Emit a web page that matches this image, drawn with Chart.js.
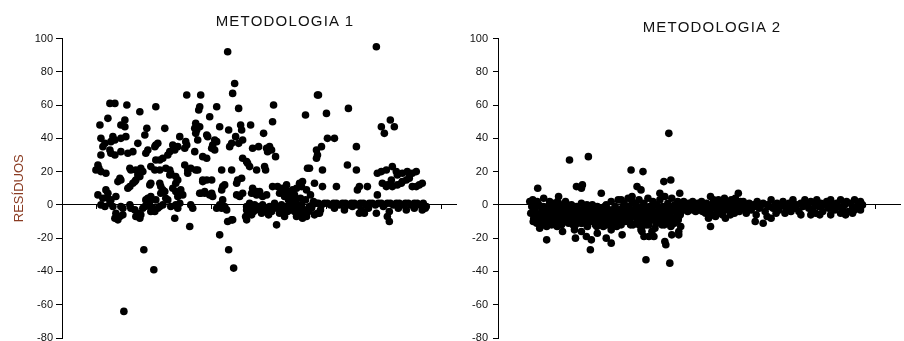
<!DOCTYPE html>
<html><head><meta charset="utf-8">
<script src="https://cdn.jsdelivr.net/npm/chart.js@4/dist/chart.umd.min.js"></script>
<style>
html,body{margin:0;padding:0;background:#fff;overflow:hidden;width:904px;height:341px}
#wrap{position:relative;width:904px;height:341px;overflow:hidden;background:#fff}
canvas{position:absolute;top:0}
#c1{left:0}
#c2{left:460px}
.ttl{position:absolute;font-family:"Liberation Sans",Arial,sans-serif;font-size:15px;line-height:15px;letter-spacing:1.2px;color:#111;white-space:nowrap;transform:translateX(-50%)}
</style></head><body>
<div id="wrap">
<canvas id="c1" width="460" height="360"></canvas>
<canvas id="c2" width="444" height="360"></canvas>
<div class="ttl" id="t1" style="left:285px;top:13px"></div>
<div class="ttl" id="t2" style="left:712px;top:19px"></div>
</div>
<script>
const chartTitles = ['METODOLOGIA 1', 'METODOLOGIA 2'];
const yAxisTitle = 'RESÍDUOS';
const yRange = [-80, 100];
const yStep = 20;
const xTickValues = [0, 115, 230, 345];
const xRange1 = [-35, 360];
const xRange2 = [-35, 370];

const metodologia1 = [
[90,66],[13,61],[18,61],[30,60],[43,56],[59,59],[104,66],[103,59],[102,57],[11,52],[3,48],[28,51],[24,48],[28,47],[50,46],[48,42],[68,46],[99,49],[98,46],[100,45],[99,43],[101,39],[4,40],[8,37],[6,35],[16,41],[14,38],[18,39],[24,40],[29,41],[41,37],[83,41],[89,38],[90,36],[88,34],[81,35],[76,36],[78,33],[13,33],[14,31],[24,32],[31,31],[36,32],[18,30],[4,30],[51,33],[49,31],[59,36],[61,37],[58,35],[73,32],[71,30],[66,28],[63,27],[59,27],[98,32],[106,29],[1,24],[-1,21],[4,20],[9,19],[33,22],[34,21],[39,21],[44,22],[46,20],[41,18],[43,17],[39,15],[54,23],[58,21],[63,21],[69,22],[73,21],[74,19],[73,18],[88,24],[91,21],[94,22],[99,21],[101,21],[91,19],[23,16],[24,15],[21,14],[79,17],[81,15],[79,13],[36,13],[33,11],[31,10],[38,14],[53,12],[54,13],[63,13],[64,11],[66,9],[68,8],[64,7],[76,10],[79,8],[84,9],[86,6],[81,5],[106,15],[108,8],[104,7],[9,9],[11,7],[1,6],[6,4],[19,5],[14,3],[51,4],[54,5],[53,2],[49,3],[59,3],[69,4],[71,3],[4,0],[13,1],[16,-1],[24,-1],[26,-2],[33,0],[34,-2],[19,-5],[18,-8],[23,-7],[26,-6],[21,-9],[38,-3],[41,-5],[39,-7],[43,-8],[44,-6],[46,-2],[48,-1],[53,-1],[56,-2],[54,-4],[58,-4],[63,-1],[66,0],[61,-2],[74,-1],[79,0],[83,1],[81,-2],[94,0],[96,-2],[78,-8],[93,-13],[47,-27],[57,-39],[27,-64],[8,-1],[11,4],[2,22],
[131,92],[138,73],[136,67],[120,59],[113,53],[142,58],[177,60],[209,54],[176,50],[221,66],[103,47],[110,42],[111,41],[118,39],[120,38],[116,36],[115,34],[118,33],[123,47],[132,45],[139,41],[144,48],[145,45],[154,48],[167,43],[135,37],[133,35],[142,37],[146,39],[156,34],[162,35],[170,34],[173,35],[175,33],[171,32],[179,29],[110,28],[146,28],[150,26],[151,25],[125,21],[135,21],[160,21],[168,23],[169,21],[220,33],[221,30],[220,28],[211,22],[110,15],[115,15],[106,14],[145,16],[141,15],[140,13],[126,11],[128,12],[125,9],[103,7],[108,7],[115,7],[116,5],[113,6],[140,6],[146,7],[143,5],[156,10],[158,7],[163,8],[160,6],[176,11],[181,11],[186,10],[190,12],[183,7],[188,5],[191,8],[196,9],[200,10],[203,13],[206,14],[210,9],[205,11],[195,5],[198,6],[218,13],[126,3],[123,0],[125,-2],[128,-1],[120,-2],[130,-3],
[150,-1],[153,1],[155,-2],[158,0],[161,-1],[163,-3],[166,0],[170,-2],[173,-1],[175,-4],[178,1],[181,-2],[185,0],[186,-3],[190,-1],[191,-4],[195,1],[196,-2],[200,-1],[201,-5],[205,0],[208,-3],[210,-7],[213,-1],[216,0],[220,1],[221,-5],[206,-5],[200,-7],
[150,-9],[131,-10],[135,-9],[136,-9],[180,-12],[123,-18],[132,-27],[137,-38],
[150,-3],[152,-5],[149,-7],[155,-6],[157,-4],[160,-2],[165,-5],[168,-3],[172,-6],[177,-2],[183,-5],[188,-7],[193,-3],[198,-4],[203,-2],[212,-4],[215,-2],[218,-6],[224,-3],
[166,5],[170,6],[186,7],[192,3],[199,2],[204,4],[209,3],[214,6],[217,2],[153,23],[155,7],[160,8],
[280,95],[222,66],[230,55],[252,58],[294,51],[298,47],[285,47],[288,43],[231,40],[238,40],[225,35],[260,35],[213,22],[226,21],[251,24],[260,21],[226,11],[240,11],[263,11],[261,9],[271,11],
[281,19],[285,20],[290,21],[296,23],[300,20],[301,18],[306,19],[311,20],[313,17],[320,20],[316,19],
[286,13],[291,12],[296,11],[301,12],[305,13],[306,14],[310,15],[313,16],[316,11],[320,11],[323,12],[326,13],[290,11],[295,15],[281,6],
[223,-5],[248,-3],[263,-5],[265,-3],[280,-5],[293,-4],[291,-7],[293,-10],[310,-3],[326,-3],[206,-8],[268,-5],
[222,1],[225,0],[228,1],[231,1],[234,0],[237,1],[240,1],[243,0],[246,1],[249,1],[252,0],[255,1],[258,1],[261,0],[264,1],[267,1],[270,0],[273,1],[276,1],[279,0],[282,1],[285,1],[288,0],[291,1],[294,1],[297,0],[300,1],[303,1],[306,0],[309,1],[312,1],[315,0],[318,1],[321,1],[324,0],[327,1],[330,-1],[238,-2],[256,-1],[272,-2],[287,-1],[302,-2],[318,-2],[329,-2]
];

const metodologia2 = [
[137,43],[37,27],[56,29],[99,21],[111,20],[132,14],[139,15],[5,10],[44,11],[50,12],[49,10],[105,11],[109,9],[69,7],[128,7],[148,7],[179,5],[207,7],[26,5],[100,5],[89,3],[25,2],
[14,-21],[30,-16],[43,-20],[42,-15],[49,-16],[54,-19],[59,-21],[58,-27],[65,-17],[74,-20],[79,-23],[79,-15],[90,-18],[109,-15],[112,-19],[117,-19],[122,-19],[114,-33],[138,-35],[133,-22],[134,-24],[140,-18],[147,-18],[149,-13],[179,-13],[224,-10],[232,-11],[240,-8],[107,-12],[110,-16],[120,-16],[147,-16],[140,-12],[254,-5],[280,-6],[289,-6],[310,-5],[315,-6],[324,-3],
[-3,2],[-2,-5],[-1,-1],[0,3],[1,-8],[2,-3],[3,1],[4,-11],[5,-6],[6,0],[7,-14],[8,-9],[9,-2],[10,-12],[11,4],[12,-7],[13,-4],[14,-13],[15,-1],[16,-10],[17,2],[18,-6],[19,-12],[20,-3],[21,-8],[22,0],[23,-11],[24,-5],[25,-9],[26,1],[27,-3],[28,-7],[29,-12],[30,-1],[31,-5],[32,-9],[33,2],[34,-4],[35,-8],[36,-11],[37,-2],[38,-6],[39,0],[40,-9],[41,-4],[42,-7],[43,-12],[44,-1],[45,-5],[46,-10],[47,-3],[48,-7],[49,1],[50,-11],[51,-6],[52,-2],[53,-9],[54,-4],[55,-13],[56,-7],[57,-1],[58,-10],[59,-5],[60,0],[61,-8],[62,-3],[63,-12],[64,-6],[65,-1],[66,-9],[67,-4],[68,-11],[69,-7],[70,-2],[71,-13],[72,-5],[73,-9],[74,0],[75,-6],[76,-11],[77,-3],[78,-8],[79,2],[80,-12],[81,-5],[82,-9],[83,-1],[84,-6],[85,-10],[86,3],[87,-4],[88,-8],[89,-12],[90,-2],[91,-6],[92,1],[93,-10],[94,-4],[95,-7],[96,4],[97,-1],[98,-9],[99,-5],[100,2],[101,-12],[102,-3],[103,-7],[104,0],[105,-10],[106,-5],[107,3],[108,-8],[109,-2],[110,-13],[111,-6],[112,1],[113,-10],[114,-3],[115,-7],[116,4],[117,-12],[118,-1],[119,-5],[120,-9],[121,2],[122,-4],[123,-14],[124,-7],[125,0],[126,-10],[127,-3],[128,3],[129,-6],[130,-12],[131,-1],[132,-8],[133,5],[134,-4],[135,-10],[136,1],[137,-6],[138,-2],[139,-13],[140,4],[141,-8],[142,-3],[143,0],[144,-10],[145,-5],[146,2],[147,-7],[148,-1],[149,-4],[150,1],
[0.5,-10],[2.5,-4],[4.5,2],[6.5,-9],[8.5,-5],[10.5,-1],[12.5,-11],[14.5,-6],[16.5,-3],[18.5,-9],[20.5,1],[22.5,-5],[24.5,-13],[26.5,-8],[28.5,-2],[30.5,-10],[32.5,-5],[34.5,0],[36.5,-7],[38.5,-3],[40.5,-12],[42.5,-2],[44.5,-8],[46.5,-6],[48.5,-11],[50.5,-3],[52.5,-7],[54.5,0],[56.5,-10],[58.5,-3],[60.5,-6],[62.5,-9],[64.5,-13],[66.5,-2],[68.5,-5],[70.5,-9],[72.5,-1],[74.5,-12],[76.5,-7],[78.5,-4],[80.5,-9],[82.5,-2],[84.5,-13],[86.5,-7],[88.5,-3],[90.5,-10],[92.5,-5],[94.5,-1],[96.5,-8],[98.5,-12],[100.5,-6],[102.5,1],[104.5,-4],[106.5,-9],[108.5,-5],[110.5,-1],[112.5,-8],[114.5,-12],[116.5,-2],[118.5,-9],[120.5,-6],[122.5,0],[124.5,-11],[126.5,-5],[128.5,-9],[130.5,-3],[132.5,-12],[134.5,-1],[136.5,-9],[138.5,-5],[140.5,-1],[142.5,-11],[144.5,-3],[146.5,-9],[148.5,-6],
[151,-3],[152,2],[153,-1],[154,0],[155,-2],[156,-4],[157,1],[158,-3],[159,-1],[160,-2],[161,2],[162,-3],[163,0],[164,-4],[165,-2],[166,1],[167,-3],[168,-1],[169,-2],[170,2],[171,-4],[172,0],[173,-2],
[174,-5],[175,1],[176,-2],[177,-8],[178,-3],[180,0],[181,-6],[182,3],[183,-2],[184,-7],[185,0],[186,-4],[187,3],[188,-5],[189,-1],[190,2],[191,-6],[192,-2],[193,4],[194,-8],[195,0],[196,-3],[197,2],[198,-1],[199,-6],[200,3],[201,-2],[202,0],[203,-5],[204,4],[205,-1],[206,1],[208,-4],[209,2],[210,-2],
[212,2],[214,-2],[216,0],[218,1],[220,-3],[222,0],[224,-1],[226,2],[228,-2],[230,0],[232,1],[234,-4],[236,0],[238,-1],[240,3],[242,-2],[244,0],[246,1],[248,-3],[250,0],[252,2],[254,-1],[256,-3],[258,1],[260,0],[262,3],[264,-2],[266,0],[268,-4],[270,1],[272,-1],[274,3],[276,0],[278,-2],[280,2],[282,-3],[284,0],[286,3],[288,-1],[290,1],[292,-4],[294,0],[296,2],[298,-2],[300,3],[302,0],[304,-3],[306,1],[308,-1],[310,3],[312,-2],[314,0],[316,2],[318,-4],[320,1],[322,-1],[324,3],[326,-2],[328,0],[330,2],[332,0],
[215,-5],[225,-6],[236,-7],[245,-5],[260,-4],[270,-6],[285,-5],[300,-6],[313,-4],[322,-5],[330,-3]
];

document.getElementById('t1').textContent = chartTitles[0];
document.getElementById('t2').textContent = chartTitles[1];

const FONT = '"Liberation Sans", Arial, sans-serif';

function makeChart(canvasId, points, xRange, cfg) {
  return new Chart(document.getElementById(canvasId), {
    type: 'scatter',
    data: { datasets: [{
      data: points.map(p => ({x: p[0], y: p[1]})),
      pointRadius: 3.8, pointHoverRadius: 3.8,
      backgroundColor: '#000', borderColor: '#000', borderWidth: 0
    }]},
    options: {
      responsive: false, animation: false, events: [],
      layout: { padding: { left: 0, right: cfg.padRight, top: 38.5, bottom: 22 } },
      plugins: { legend: {display: false}, tooltip: {enabled: false}, title: {display: false} },
      scales: {
        x: {
          type: 'linear', min: xRange[0], max: xRange[1], position: {y: 0},
          afterBuildTicks: s => { s.ticks = xTickValues.map(v => ({value: v})); },
          ticks: { display: false },
          grid: { display: true, drawOnChartArea: false, drawTicks: true, tickLength: 4, color: '#000', lineWidth: 1 },
          border: { display: true, color: '#000', width: 1 }
        },
        y: {
          type: 'linear', min: yRange[0], max: yRange[1], position: 'left',
          afterFit: s => { s.width = cfg.yWidth; },
          ticks: { stepSize: yStep, color: '#111', padding: cfg.tickPad, font: { family: FONT, size: 11 } },
          grid: { drawOnChartArea: false, drawTicks: true, tickLength: cfg.tickLen, color: '#000' },
          border: { display: true, color: '#000', width: 1 },
          title: { display: cfg.showTitle, text: yAxisTitle, color: '#8a3b22', font: { family: FONT, size: 13 }, padding: { top: 12, bottom: 0 } }
        }
      }
    }
  });
}

makeChart('c1', metodologia1, xRange1, { padRight: 3, yWidth: 62, tickPad: 3, tickLen: 6, showTitle: true });
makeChart('c2', metodologia2, xRange2, { padRight: 1, yWidth: 38, tickPad: 5, tickLen: 5, showTitle: false });
</script>
</body></html>
